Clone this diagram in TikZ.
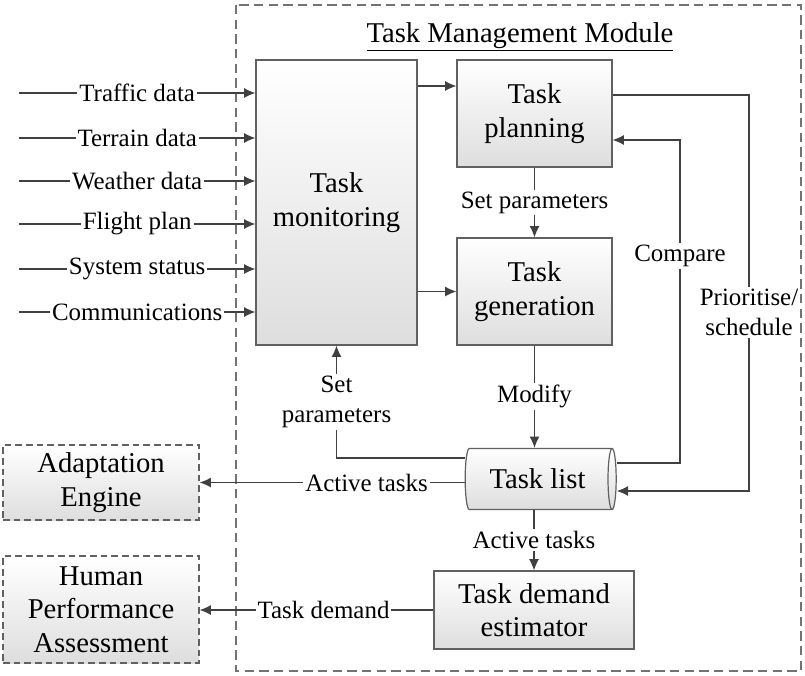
\documentclass[tikz,border=0pt]{standalone}
\usepackage{fontspec}
\setmainfont{Liberation Serif}
\usetikzlibrary{positioning, shapes.geometric, arrows.meta}

\newcommand{\blocktext}{\fontsize{21.5}{25}\selectfont}
\newcommand{\flowtext}{\fontsize{18.7}{22.5}\selectfont}

\tikzset{
  block/.style={draw=black!62, line width=0.9pt, top color=white, bottom color=black!13,
    align=center, font=\blocktext, inner sep=2pt},
  extbox/.style={block, dash pattern=on 5pt off 3pt},
  store/.style={block, cylinder, shape border rotate=0, aspect=0.32},
  flow/.style={draw=black!75, line width=0.9pt, -{Latex[length=8.5pt,width=7.5pt]}},
  lbl/.style={fill=white, font=\flowtext, align=center, inner sep=1.5pt},
}

\begin{document}
\begin{tikzpicture}[x=0.75pt, y=-0.75pt]
  \useasboundingbox (0,0) rectangle (805,675);
  \draw[black!55, line width=0.9pt, dash pattern=on 7pt off 4pt] (236,5) rectangle (801,671); % module frame
  \node[font=\blocktext] (title) at (520,37) {\underline{Task Management Module}};

  \node[block, minimum width=120.75pt, minimum height=213.75pt] (monitor) at (336.5,202.5) {Task\\monitoring};
  \node[block, minimum width=116.25pt, minimum height=80.25pt] (plan) at (534.5,113.5) {Task\\planning};
  \node[block, minimum width=116.25pt, minimum height=80.25pt] (gen) at (534.5,291.5) {Task\\generation};
  \node[store, minimum height=113.25pt, minimum width=45.75pt] (list) at (537.5,479) {Task list};
  \node[block, minimum width=150pt, minimum height=58.5pt] (est) at (534,610) {Task demand\\estimator};

  \node[extbox, minimum width=147pt, minimum height=56.25pt] (adapt) at (101,482.5) {Adaptation\\Engine};
  \node[extbox, minimum width=147pt, minimum height=80.25pt] (human) at (101,609.5) {Human\\Performance\\Assessment};

  % inputs
  \foreach \txt/\y in {Traffic data/93, Terrain data/138, Weather data/181,
                       Flight plan/224, System status/269, Communications/312} {
    \coordinate (in\y) at (19,\y);
    \draw[flow] (in\y) -- node[lbl]{\txt} (monitor.west |- in\y);
  }

  \draw[flow] (monitor.east |- 0,86) -- (plan.west |- 0,86);
  \draw[flow] (monitor.east |- gen.west) -- (gen.west);
  \draw[flow] (plan.south) -- node[lbl]{Set parameters} (gen.north);
  \draw[flow] (gen.south) -- node[lbl]{Modify} (gen.south |- list.north);
  \draw[flow] (est.north |- list.south) -- node[lbl]{Active tasks} (est.north);

  \draw[flow] (list.west |- 0,458) -| node[lbl, pos=0.75]{Set\\parameters} (monitor.south);
  \draw[flow] (list.east |- 0,463) -| node[lbl, pos=0.82]{Compare} (680,140) -- (plan.east |- 0,140);
  \draw[flow] (plan.east |- 0,95) -| node[lbl, pos=0.775]{Prioritise/\\schedule} (749,491) -- (list.east |- 0,491);

  \draw[flow] (list.west |- adapt.east) -- node[lbl, pos=0.37]{Active tasks} (adapt.east);
  \draw[flow] (est.west) -- node[lbl, pos=0.47]{Task demand} (human.east |- est.west);
\end{tikzpicture}
\end{document}
